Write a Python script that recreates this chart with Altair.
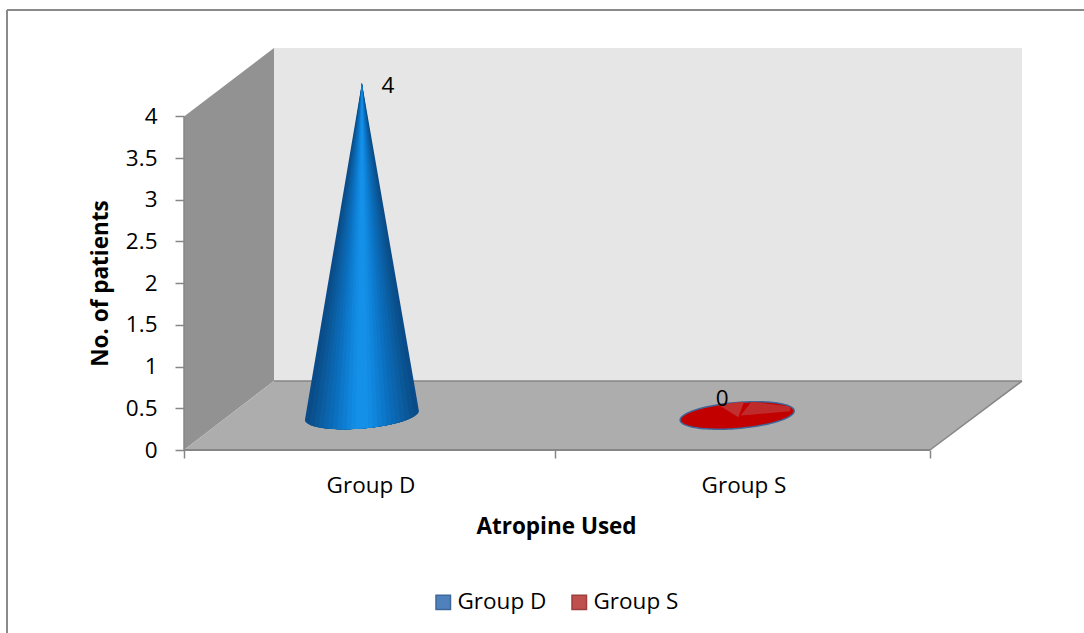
import math
import altair as alt
import pandas as pd

# Values shown by the chart
groups = ["Group D", "Group S"]
patients = [4, 0]
y_ticks = [0, 0.5, 1, 1.5, 2, 2.5, 3, 3.5, 4]
legend_fill = ["#4f81bd", "#c0504d"]
legend_stroke = ["#3f6797", "#9d3f3c"]

FONT = "Open Sans"
AXIS_GREY = "#868686"
TEXT_SIZE = 22.5
TITLE_SIZE = 22.5

# Oblique box drawn in axis units: one category is one x unit
X_MAX, Y_MAX = 2.2466, 4.82
DEPTH_X, DEPTH_Y = 0.2413, 0.827

# Cone geometry in axis units
CENTER_X = {"Group D": 0.477, "Group S": 1.483}
BASE_Y, HALF_W, HALF_H, TILT = 0.414, 0.1528, 0.156, 0.353
APEX_LIFT = 0.40

x_scale = alt.Scale(domain=[0, X_MAX], nice=False, zero=False)
y_scale = alt.Scale(domain=[0, Y_MAX], nice=False, zero=False)
X = alt.X("x:Q", scale=x_scale, axis=None)
Y = alt.Y("y:Q", scale=y_scale, axis=None)


def area(rows, color):
    return alt.Chart(pd.DataFrame(rows)).mark_area(color=color).encode(
        x=X, y=Y, y2="y2:Q"
    )


def rule(x1, y1, x2, y2, color=AXIS_GREY, width=1.5):
    # A straight edge given as a two-point line in axis units
    return alt.Chart(pd.DataFrame({"x": [x1, x2], "y": [y1, y2]})).mark_line(
        color=color, strokeWidth=width
    ).encode(x=X, y=Y)


def rim(cx, x):
    return BASE_Y + TILT * (x - cx)


def lower_edge(cx, x):
    u = max(-1, min(1, (x - cx) / HALF_W))
    return rim(cx, x) - HALF_H * math.sqrt(1 - u * u)


def upper_edge(cx, x):
    u = max(-1, min(1, (x - cx) / HALF_W))
    return rim(cx, x) + HALF_H * math.sqrt(1 - u * u)


def cone_band(cx, height, ul, ur, color):
    # One slice of a cone's shading: from a stretch of the base rim up to the apex
    apex = height + APEX_LIFT
    rows = []
    n = 14
    for side, u0 in ((-1, ul), (1, ur)):
        t0 = math.asin(u0)
        steps = range(n, -1, -1) if side < 0 else range(1, n + 1)
        base_x = cx + u0 * HALF_W
        base_y = lower_edge(cx, base_x)
        for i in steps:
            # i == 0 lands on the apex column, i == n on the band's rim
            x = cx + math.sin(t0 * i / n) * HALF_W
            f = (x - base_x) / (cx - base_x)
            rows.append({"x": x, "y": base_y + (apex - base_y) * f, "y2": lower_edge(cx, x)})
    return area(rows, color)


def disc(cx, color, stroke=None):
    rows = []
    n = 60
    for i in range(n + 1):
        t = -math.pi / 2 + math.pi * i / n
        x = cx + math.sin(t) * HALF_W
        rows.append({"x": x, "y": upper_edge(cx, x), "y2": lower_edge(cx, x)})
    mark = {"color": color}
    if stroke:
        mark.update(stroke=stroke, strokeWidth=1.5)
    return alt.Chart(pd.DataFrame(rows)).mark_area(**mark).encode(x=X, y=Y, y2="y2:Q")


def wedge(cx, u_pts, bottoms, color, start_low=False):
    # Lighter reflection on the flat disc, bounded above by its rim
    rows = []
    for i, (u, b) in enumerate(zip(u_pts, bottoms)):
        x = cx + u * HALF_W
        top = upper_edge(cx, x)
        low = top if b is None else BASE_Y + b
        if start_low and i == 0:
            top = low
        rows.append({"x": x, "y": top, "y2": low})
    return area(rows, color)


# Series carrying the legend; it sits behind the back wall
legend_layer = alt.Chart(
    pd.DataFrame({"group": groups, "x": [CENTER_X[g] for g in groups], "y": [2, 2]})
).mark_point(shape="square", filled=True, size=60, opacity=1).encode(
    x=X,
    y=Y,
    fill=alt.Fill(
        "group:N",
        scale=alt.Scale(domain=groups, range=legend_fill),
        legend=alt.Legend(
            title=None, orient="none", legendX=248, legendY=543, direction="horizontal",
            columns=2, symbolType="square", symbolSize=210, symbolStrokeWidth=1.5,
            labelFont=FONT, labelFontSize=TEXT_SIZE, labelColor="#000000", columnPadding=21,
            labelOffset=3,
        ),
    ),
    stroke=alt.Stroke("group:N", scale=alt.Scale(domain=groups, range=legend_stroke)),
)

# Tick marks and tick labels
y_axis_layer = alt.Chart(pd.DataFrame({"y": y_ticks})).mark_point(opacity=0).encode(
    y=alt.Y(
        "y:Q", scale=y_scale,
        axis=alt.Axis(
            orient="left", values=y_ticks, format="~g", domain=False, grid=False,
            tickColor=AXIS_GREY, tickWidth=1.5, tickSize=9, labelPadding=18, labelFont=FONT,
            labelFontSize=TEXT_SIZE, labelColor="#000000", title="No. of patients",
            titleFont=FONT, titleFontSize=TITLE_SIZE, titleFontWeight="bold",
            titleColor="#000000", titleX=-72, titleY=235, titleAngle=270,
        ),
    )
)
x_tick_layer = alt.Chart(pd.DataFrame({"x": [0, 0.995, 2]})).mark_point(opacity=0).encode(
    x=alt.X(
        "x:Q", scale=x_scale,
        axis=alt.Axis(orient="bottom", values=[0, 0.995, 2], domain=False, grid=False,
                      labels=False, tickColor=AXIS_GREY, tickWidth=1.5, tickSize=8, title=None),
    )
)
x_label_layer = alt.Chart(pd.DataFrame({"x": [0.5, 1.5]})).mark_point(opacity=0).encode(
    x=alt.X(
        "x:Q", scale=x_scale,
        axis=alt.Axis(
            orient="bottom", values=[0.5, 1.5], domain=False, grid=False, ticks=False,
            labelExpr="datum.value < 1 ? 'Group D' : 'Group S'", labelFont=FONT,
            labelFontSize=TEXT_SIZE, labelColor="#000000", labelPadding=24,
            title="Atropine Used", titleFont=FONT, titleFontSize=TITLE_SIZE,
            titleFontWeight="bold", titleColor="#000000", titleX=372, titleY=76,
            titleBaseline="middle",
        ),
    )
)

# Walls and floor of the box
side_wall = area([
    {"x": 0, "y": 4, "y2": 0},
    {"x": DEPTH_X, "y": Y_MAX, "y2": DEPTH_Y},
], "#929292")
back_wall = area([
    {"x": DEPTH_X, "y": Y_MAX, "y2": DEPTH_Y},
    {"x": X_MAX, "y": Y_MAX, "y2": DEPTH_Y},
], "#e6e6e6")
floor = area([
    {"x": 0, "y": 0, "y2": 0},
    {"x": DEPTH_X, "y": DEPTH_Y, "y2": 0},
    {"x": 2, "y": DEPTH_Y, "y2": 0},
    {"x": X_MAX, "y": DEPTH_Y, "y2": DEPTH_Y},
], "#adadad")
edges = [
    rule(0, 0, 0, 4),
    rule(0, 0, 2, 0, width=2),
    rule(DEPTH_X, DEPTH_Y, X_MAX, DEPTH_Y),
    rule(2, 0, X_MAX, DEPTH_Y),
]

# Blue cone: nested slices run from the dark rim to the bright ridge
ramp = ["#0a4c8a", "#0a528f", "#0a5898", "#0b5ea2", "#0b64ac", "#0b6ab6", "#0c70c0",
        "#0d77c9", "#0e7ed2", "#1085db", "#128be3", "#1490e8"]
cx_d = CENTER_X["Group D"]
n_bands = len(ramp)
cone_layers = [
    cone_band(cx_d, patients[0], -1 + (i / n_bands) * 0.97, 1 - (i / n_bands) * 0.97, c)
    for i, c in enumerate(ramp)
]

# Red cone of zero height is just its base disc
cx_s = CENTER_X["Group S"]
red_layers = [
    disc(cx_s, "#c20000", stroke="#3f6797"),
    wedge(cx_s, [-0.33, 0.02, 0.12], [None, -0.02, None], "#c22f2f"),
    wedge(cx_s, [0.06, 0.25, 0.93], [0.0, 0.01, 0.05], "#bf2a2a", start_low=True),
]

# Value labels beside each cone's tip
labels = alt.Chart(pd.DataFrame({
    "x": [cx_d + 0.07, cx_s - 0.04],
    "y": [patients[0] + APEX_LIFT - 0.03, patients[1] + BASE_Y + 0.2],
    "label": [str(v) for v in patients],
})).mark_text(font=FONT, fontSize=TEXT_SIZE, color="#000000").encode(x=X, y=Y, text="label:N")

# Frame of the chart area
frame_left = alt.Chart(pd.DataFrame({"g": [0]})).mark_rule(color="#8a8a8a", strokeWidth=2).encode(
    x=alt.value(-177), y=alt.value(-38), y2=alt.value(585))
frame_top = alt.Chart(pd.DataFrame({"g": [0]})).mark_rule(color="#8a8a8a", strokeWidth=2).encode(
    x=alt.value(-177), x2=alt.value(900), y=alt.value(-38))

chart = alt.layer(
    y_axis_layer, x_tick_layer, x_label_layer,
    legend_layer, side_wall, back_wall, floor, *edges,
    *cone_layers, *red_layers, labels, frame_left, frame_top,
).resolve_axis(x="independent", y="independent").properties(
    width=838,
    height=402,
    background="#ffffff",
    padding={"left": 184, "top": 48, "right": 62, "bottom": 183},
    autosize=alt.AutoSizeParams(type="none"),
).configure_view(stroke=None)

chart.save("out.html", embed_options={"renderer": "svg", "actions": False})
